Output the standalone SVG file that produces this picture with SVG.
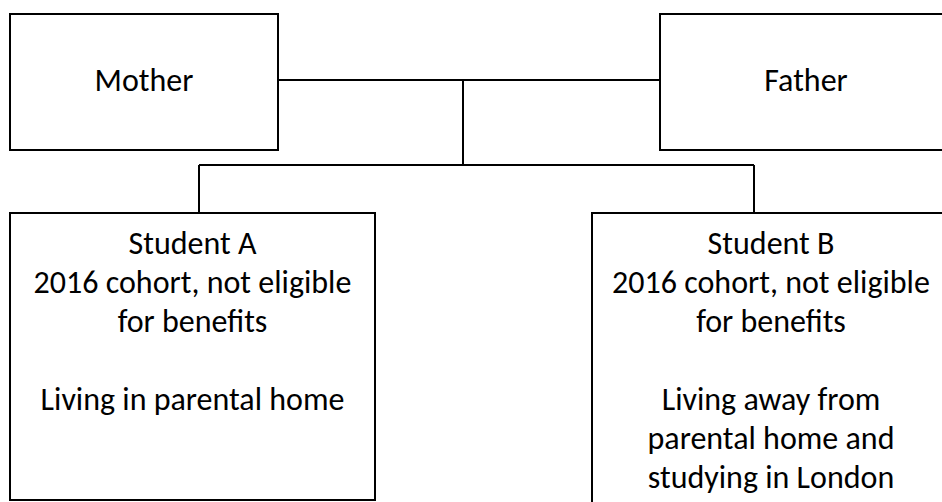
<svg xmlns="http://www.w3.org/2000/svg" width="942" height="502" viewBox="0 0 942 502">
<style>
.box{fill:#fff;stroke:#000;stroke-width:2}
.conn{fill:none;stroke:#000;stroke-width:2}
text{font-family:Carlito,Lato,"Liberation Sans",sans-serif;font-size:32px;fill:#000;text-anchor:middle}
</style>
<rect width="942" height="502" fill="#fff"/>
<g id="connectors">
<path class="conn" d="M278 80H660M463 80V165M199 165H754M199 165V213M754 165V213"/>
</g>
<g id="mother">
<rect class="box" x="10" y="14" width="268" height="136"/>
<text x="144" y="91">Mother</text>
</g>
<g id="father">
<rect class="box" x="660" y="14" width="292" height="136"/>
<text x="806" y="91">Father</text>
</g>
<g id="studentA">
<rect class="box" x="10" y="213" width="365" height="287"/>
<text x="192.5" y="254">Student A</text>
<text x="192.5" y="293">2016 cohort, not eligible</text>
<text x="192.5" y="332">for benefits</text>
<text x="192.5" y="410">Living in parental home</text>
</g>
<g id="studentB">
<rect class="box" x="592" y="213" width="360" height="300"/>
<text x="771" y="254">Student B</text>
<text x="771" y="293">2016 cohort, not eligible</text>
<text x="771" y="332">for benefits</text>
<text x="771" y="410">Living away from</text>
<text x="771" y="449">parental home and</text>
<text x="771" y="488">studying in London</text>
</g>
</svg>
